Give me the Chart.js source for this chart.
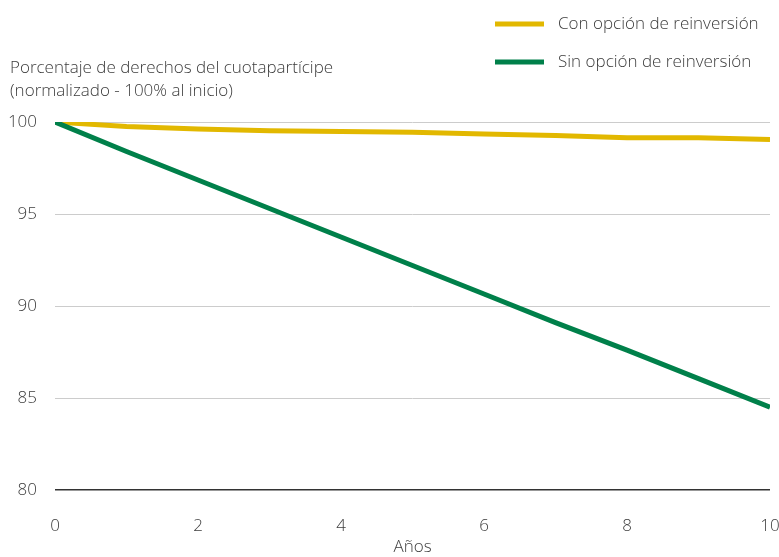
<!DOCTYPE html>
<html>
<head>
<meta charset="utf-8">
<script src="https://cdn.jsdelivr.net/npm/chart.js@4"></script>
<style>
  html, body { margin: 0; padding: 0; background: #fff; }
  #wrap { width: 779px; height: 557px; }
</style>
</head>
<body>
<div id="wrap"><canvas id="chart"></canvas></div>
<script>
const years = [0, 1, 2, 3, 4, 5, 6, 7, 8, 9, 10];
const conReinversion = [100, 99.75, 99.62, 99.53, 99.48, 99.44, 99.35, 99.26, 99.15, 99.14, 99.05];
const sinReinversion = [100, 98.4, 96.85, 95.3, 93.75, 92.2, 90.65, 89.1, 87.6, 86.05, 84.5];
const yTitle = ['Porcentaje de derechos del cuotapartícipe', '(normalizado - 100% al inicio)'];
const xTitle = 'Años';

const FONT = '"Open Sans", "Noto Sans", sans-serif';
const TEXT = '#3c3c3c';

// leyenda y título del eje y, dibujados arriba a la izquierda / derecha
const extraText = {
    id: 'extraText',
    afterDraw(chart) {
        const ctx = chart.ctx;
        ctx.save();
        ctx.font = '300 17px ' + FONT;
        ctx.fillStyle = TEXT;
        ctx.textBaseline = 'middle';
        ctx.textAlign = 'left';
        ctx.fillText(yTitle[0], 10, 68);
        ctx.fillText(yTitle[1], 10, 91);

        chart.data.datasets.forEach((ds, i) => {
            const y = 24 + i * 38;
            ctx.strokeStyle = ds.borderColor;
            ctx.lineWidth = 5;
            ctx.beginPath();
            ctx.moveTo(495, y);
            ctx.lineTo(544, y);
            ctx.stroke();
            ctx.fillText(ds.label, 558, y);
        });
        ctx.restore();
    }
};

const ctx = document.getElementById('chart').getContext('2d');
new Chart(ctx, {
    type: 'line',
    data: {
        labels: years,
        datasets: [{
            label: 'Con opción de reinversión',
            data: conReinversion,
            borderColor: '#e2b800',
            borderWidth: 5,
            order: 1
        }, {
            label: 'Sin opción de reinversión',
            data: sinReinversion,
            borderColor: '#00804a',
            borderWidth: 5,
            order: 0
        }]
    },
    options: {
        responsive: true,
        maintainAspectRatio: false,
        animation: false,
        elements: {
            point: { radius: 0 },
            line: { tension: 0, borderCapStyle: 'butt' }
        },
        layout: { padding: { top: 122, right: 0, left: 0, bottom: 0 } },
        plugins: {
            legend: { display: false },
            tooltip: { enabled: false }
        },
        scales: {
            x: {
                type: 'linear',
                min: 0,
                max: 10,
                grid: { display: false, drawTicks: false },
                border: { display: false },
                ticks: {
                    stepSize: 2,
                    padding: 26,
                    color: TEXT,
                    font: { family: FONT, size: 17, weight: 300 }
                },
                title: {
                    display: true,
                    text: xTitle,
                    color: TEXT,
                    font: { family: FONT, size: 17, weight: 300 },
                    padding: { top: 0, bottom: 0 }
                },
                afterFit(scale) {
                    scale.height = 67;
                    scale.paddingLeft = 0;
                    scale.paddingRight = 9;
                }
            },
            y: {
                min: 80,
                max: 100,
                grid: {
                    drawTicks: false,
                    color: c => c.tick.value === 80 ? '#333333' : '#cccccc',
                    lineWidth: c => c.tick.value === 80 ? 1.5 : 1
                },
                border: { display: false },
                ticks: {
                    stepSize: 5,
                    padding: 18,
                    color: TEXT,
                    font: { family: FONT, size: 17, weight: 300 }
                },
                afterFit(scale) { scale.width = 55; }
            }
        }
    },
    plugins: [extraText]
});
</script>
</body>
</html>
